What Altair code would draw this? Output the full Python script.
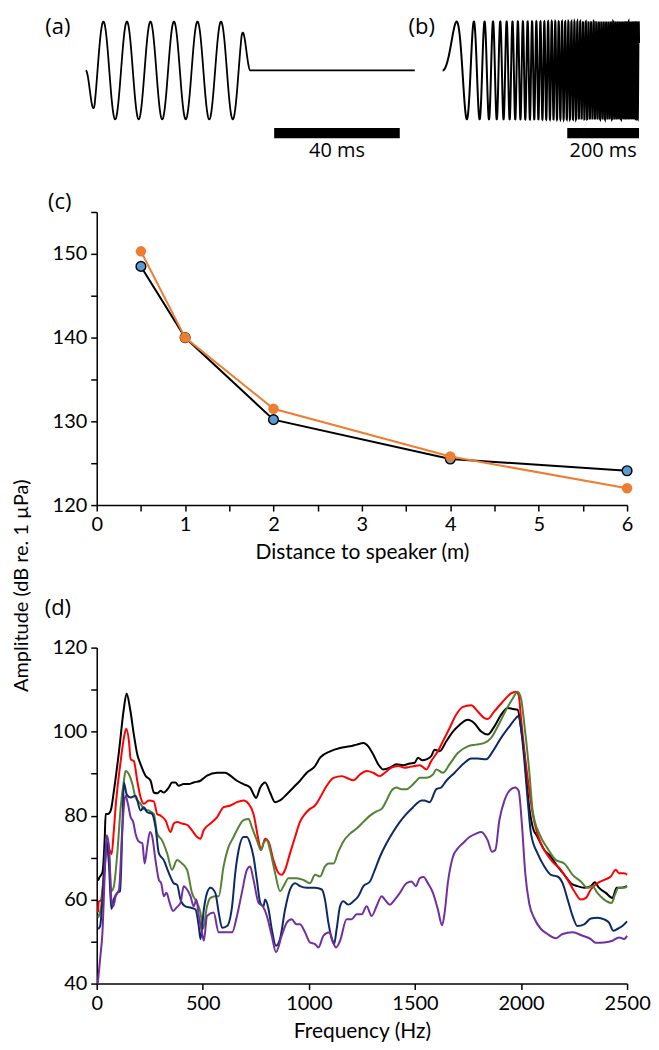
import altair as alt
import numpy as np
import pandas as pd

# ---------------- panel (a): tone burst ----------------
A_TONE_HZ = 133.5
A_CYCLES = 7
A_RAMP_CYCLES = 0.375
A_TRACE_END_MS = 104.8
A_DOMAIN_MS = [3.49, 176.2]
A_BAR_MS = [60.0, 100.0]
A_BAR_LABEL = "40 ms"

# ---------------- panel (b): frequency sweep ----------------
B_SWEEP_HZ_PER_S = 330.0
B_DURATION_MS = 547.2
B_DOMAIN_MS = [-963.9, 547.2]
B_BAR_MS = [347.2, 547.2]
B_BAR_LABEL = "200 ms"

WAVE_Y_DOMAIN = [-1.857, 1.082]
BAR_Y = [-1.18, -1.39]
BAR_LABEL_Y = -1.65

# ---------------- panel (c) ----------------
distance_m = [0.5, 1, 2, 4, 6]
level_black = [148.5, 140.0, 130.2, 125.5, 124.1]
level_orange = [150.3, 140.0, 131.5, 125.8, 122.0]

# ---------------- panel (d) ----------------
black_f = [6, 12, 27, 38, 42, 53, 66, 81, 105, 128, 141, 157, 175, 191, 207, 230, 254, 269, 285, 301, 316, 340, 355, 371, 386, 410, 434, 457, 489, 520, 567, 606, 630, 661, 692, 723, 739, 751, 771, 794, 817, 841, 864, 896, 927, 958, 990, 1029, 1053, 1100, 1147, 1194, 1225, 1257, 1280, 1303, 1327, 1350, 1382, 1413, 1444, 1476, 1499, 1515, 1535, 1554, 1577, 1593, 1616, 1648, 1679, 1710, 1749, 1780, 1812, 1843, 1874, 1906, 1937, 1961, 1984, 2000, 2016, 2035, 2055, 2078, 2110, 2141, 2172, 2204, 2235, 2266, 2298, 2329, 2348, 2368, 2400, 2431, 2451, 2470, 2500]
black_a = [64.5, 65.2, 66.5, 75, 80.4, 80.4, 81.2, 85.9, 95.3, 105.5, 109.1, 105.5, 99.3, 94.6, 92.2, 89.5, 88.3, 85.5, 85.3, 85.9, 85.5, 86.7, 87.9, 87.9, 87.1, 87.5, 87.5, 87.9, 88.3, 89.5, 90.2, 90.2, 89.5, 88.3, 87.5, 86.7, 85.1, 84.2, 86.7, 87.9, 85.5, 83.2, 83.6, 85.1, 86.7, 88.3, 90.2, 91.8, 93.8, 95.3, 96.1, 96.5, 96.9, 97.3, 96.5, 94.6, 92.2, 91, 91.4, 92.2, 92, 92.4, 92.6, 93.8, 93.2, 93.4, 94.2, 95.7, 95.3, 97.7, 100, 101.6, 102.8, 102, 100, 99.3, 101.2, 104, 105.6, 105.4, 105.2, 100.9, 94.6, 83.5, 77.3, 74.9, 71.8, 70.2, 67.9, 65.9, 63.9, 63.2, 62.8, 63.2, 64.1, 62.8, 61.6, 60.4, 62.8, 62.8, 63.2]

red_f = [6, 10, 20, 30, 45, 58, 70, 80, 89, 113, 128, 139, 152, 160, 175, 191, 207, 222, 246, 269, 285, 301, 324, 348, 363, 379, 402, 426, 449, 473, 489, 504, 536, 567, 598, 630, 661, 692, 716, 739, 763, 775, 794, 810, 833, 857, 872, 888, 911, 935, 958, 982, 1005, 1029, 1053, 1084, 1116, 1155, 1178, 1210, 1241, 1272, 1303, 1335, 1358, 1389, 1421, 1452, 1476, 1499, 1523, 1554, 1577, 1608, 1632, 1663, 1694, 1726, 1765, 1796, 1828, 1843, 1874, 1914, 1953, 1976, 1989, 2000, 2016, 2039, 2055, 2078, 2110, 2149, 2188, 2220, 2251, 2282, 2306, 2329, 2360, 2392, 2423, 2447, 2462, 2486, 2500]
red_a = [57, 59.5, 59.8, 64, 71, 72, 70.8, 76, 82, 93, 98.5, 100.7, 97.7, 93.4, 93, 88.3, 84.3, 82.8, 83.6, 83.4, 80.4, 80, 78.9, 76.1, 78.1, 78.5, 78.1, 77.8, 76.5, 74.9, 74.5, 76.5, 78.1, 79.6, 82, 82.4, 83.2, 83.6, 82.8, 80.4, 74.1, 71.8, 74.5, 73.8, 69.4, 66.3, 65.9, 67.1, 71, 74.9, 78.5, 80.4, 81.6, 82.4, 84.3, 87.1, 89, 89.4, 89, 88.4, 89.8, 90.6, 90.2, 89.4, 90.2, 91.4, 91.8, 91.4, 91.6, 91.8, 92, 91, 93, 95.3, 97.7, 100.8, 104, 105.9, 106.3, 104.8, 103.2, 103, 104.8, 107.1, 109.1, 109.5, 108.7, 103.2, 95.3, 86, 80.5, 75.5, 71.8, 69, 67.1, 64.7, 62, 60, 60.4, 62.4, 63.9, 64.7, 65.5, 67.1, 66.3, 66.3, 65.9]

green_f = [6, 20, 35, 47, 58, 69, 80, 97, 113, 128, 136, 152, 168, 183, 207, 222, 246, 269, 285, 308, 332, 355, 379, 402, 426, 449, 473, 489, 501, 520, 536, 559, 575, 598, 622, 645, 669, 692, 716, 731, 755, 774, 786, 802, 817, 841, 864, 888, 903, 942, 974, 1005, 1029, 1053, 1076, 1092, 1116, 1139, 1162, 1194, 1225, 1257, 1288, 1319, 1343, 1366, 1389, 1413, 1436, 1460, 1484, 1507, 1523, 1554, 1585, 1601, 1632, 1663, 1702, 1749, 1788, 1828, 1859, 1898, 1930, 1961, 1984, 2000, 2016, 2039, 2055, 2086, 2125, 2165, 2204, 2243, 2282, 2313, 2337, 2360, 2392, 2427, 2443, 2459, 2486, 2500]
green_a = [55.7, 58, 66, 73, 70, 62, 63, 71, 82, 88.3, 90.6, 89.8, 87.5, 84.3, 82.8, 81.6, 81.2, 80.4, 75.7, 74.1, 71, 67.1, 69.4, 68.6, 67.1, 61.6, 59.2, 56.9, 53, 58.4, 60.4, 60.8, 60.8, 67.9, 72.6, 74.9, 77.3, 78.9, 79.2, 77.3, 74.1, 71.8, 73.4, 74.1, 71.8, 66.3, 62, 63.9, 65.1, 65.1, 64.7, 63.9, 65.9, 65.5, 67.9, 68.6, 68.6, 71.4, 73.8, 75.7, 76.9, 78.5, 80, 81, 81.6, 83.6, 85.9, 86.7, 86.3, 86.3, 87.1, 88.3, 89, 89, 89.8, 91, 90.2, 92.2, 94.9, 96.5, 96.9, 97.3, 98.5, 102, 105.2, 107.9, 109.5, 107.9, 101.6, 90.5, 81.2, 75.7, 72.2, 69.4, 68.6, 65.9, 64.3, 62.8, 63.2, 61.6, 60, 59.2, 61.2, 62.8, 62.8, 63.2]

navy_f = [6, 16, 27, 38, 47, 58, 69, 80, 97, 110, 121, 128, 141, 160, 183, 207, 222, 238, 261, 277, 293, 316, 340, 363, 379, 395, 418, 442, 465, 481, 489, 505, 520, 536, 559, 575, 591, 614, 638, 653, 669, 692, 708, 723, 739, 755, 771, 786, 794, 810, 825, 845, 864, 888, 911, 935, 958, 990, 1029, 1061, 1076, 1092, 1108, 1119, 1131, 1147, 1162, 1186, 1210, 1233, 1257, 1288, 1311, 1335, 1366, 1397, 1429, 1460, 1491, 1507, 1531, 1545, 1569, 1601, 1624, 1648, 1687, 1734, 1765, 1796, 1836, 1867, 1906, 1945, 1976, 1989, 2000, 2016, 2031, 2047, 2078, 2110, 2141, 2172, 2196, 2220, 2243, 2266, 2298, 2329, 2360, 2392, 2415, 2435, 2454, 2478, 2500]
navy_a = [53, 53.7, 60, 70.2, 74, 68, 57.8, 60, 61.6, 62, 77.3, 87.9, 85.1, 84.3, 84.7, 81.2, 82, 80.8, 80.4, 77.3, 71, 69.4, 66.3, 63.9, 63.5, 60, 58.4, 58.1, 57.7, 53.7, 50.6, 57.7, 61.6, 62.8, 61.6, 56.9, 53.3, 53.7, 58.4, 66.3, 71.8, 74.9, 74.9, 73.4, 70.2, 64.7, 59.2, 58.4, 60, 57.7, 53, 49, 50.6, 57.7, 62.4, 63.9, 63.2, 62.8, 62.8, 62.4, 60, 54.5, 50.6, 49.4, 53, 58.4, 59.6, 58.8, 59.6, 60.8, 63.2, 64.3, 67.1, 70.2, 73.4, 76.1, 78.5, 80.4, 82, 82.8, 83.6, 83.6, 83.2, 86.3, 86.7, 88.3, 90.2, 92.6, 93.6, 93.6, 93.4, 95.3, 98.5, 101.2, 103.2, 103.8, 100.8, 93, 84, 75.7, 71, 67.9, 65.9, 65.5, 63.9, 60, 56.1, 53.7, 54.1, 55.5, 55.7, 55.3, 54.5, 52.6, 53, 53.7, 54.8]

purple_f = [5, 16, 27, 38, 47, 58, 69, 78, 89, 105, 121, 136, 147, 160, 172, 183, 199, 215, 226, 238, 251, 262, 277, 293, 304, 316, 329, 344, 360, 376, 395, 410, 426, 442, 457, 470, 481, 496, 505, 520, 551, 575, 591, 638, 661, 684, 708, 723, 739, 763, 783, 802, 825, 845, 872, 896, 919, 942, 958, 982, 1005, 1029, 1045, 1069, 1097, 1112, 1128, 1147, 1178, 1202, 1225, 1249, 1272, 1296, 1319, 1343, 1358, 1382, 1405, 1429, 1460, 1484, 1504, 1523, 1541, 1561, 1585, 1608, 1628, 1640, 1655, 1679, 1702, 1726, 1757, 1788, 1812, 1843, 1863, 1879, 1898, 1922, 1945, 1973, 1989, 2004, 2020, 2039, 2063, 2094, 2125, 2165, 2196, 2243, 2290, 2329, 2352, 2392, 2431, 2462, 2486, 2500]
purple_a = [40, 45.9, 52.2, 66.3, 75.3, 72.6, 60, 58.4, 60.8, 62.4, 77.3, 84.7, 82.8, 79.6, 78.5, 75.7, 73.8, 73.4, 68.6, 72.6, 76.1, 74.9, 69.4, 64.7, 63.9, 60.8, 61.6, 59.2, 57.3, 58.1, 59.2, 63.2, 62.4, 60.8, 58.4, 60, 56.1, 52.2, 50.2, 56.1, 56.9, 52.2, 52.2, 52.2, 56.1, 61.6, 67.1, 67.9, 64.7, 59.2, 58.4, 56.1, 51.4, 47.5, 51.4, 54.5, 55.3, 54.1, 54.1, 52.2, 49.8, 49.4, 48.6, 51.4, 52.2, 50.2, 48.6, 50.2, 55.3, 55.3, 56.5, 56.5, 58.4, 56.1, 58.4, 60.8, 60, 58.8, 60, 61.6, 63.9, 64.3, 63.2, 65.1, 65.4, 63.9, 61.6, 57.7, 53.9, 56.9, 63.9, 70.2, 72.2, 73.4, 74.9, 75.7, 76.1, 74.1, 71.4, 71.8, 78.9, 83.6, 85.9, 86.7, 85.9, 78.1, 66.3, 59, 55.5, 53, 51.8, 50.8, 51.8, 52.2, 51.4, 50.6, 49.7, 49.8, 50.2, 51, 50.6, 51.4]

series_names = ["black", "red", "green", "navy", "purple"]
series_colors = ["#000000", "#ff0000", "#548235", "#0b2a66", "#7030a0"]
series_f = [black_f, red_f, green_f, navy_f, purple_f]
series_a = [black_a, red_a, green_a, navy_a, purple_a]

AXIS_FONT = "Lato"
LABEL_FONT = "Open Sans"

# ================= top row: waveforms =================
t_a = np.arange(0, A_TRACE_END_MS + 1e-9, 0.05)
tone_end = A_CYCLES / A_TONE_HZ * 1000
ramp = A_RAMP_CYCLES / A_TONE_HZ * 1000
env = np.clip(np.minimum(t_a / ramp, (tone_end - t_a) / ramp), 0, 1)
df_a = pd.DataFrame({"t": t_a, "v": -np.sin(2 * np.pi * A_TONE_HZ * t_a / 1000) * env})

t_b = np.arange(0, B_DURATION_MS + 1e-9, 0.1)
ts = t_b / 1000
df_b = pd.DataFrame({"t": t_b, "v": np.sin(2 * np.pi * B_SWEEP_HZ_PER_S * ts * ts / 2)})

yw = alt.Y("v:Q", scale=alt.Scale(domain=WAVE_Y_DOMAIN, nice=False, zero=False), axis=None)


def wave_layer(df, domain, bar, label, letter, letter_x, width):
    xs = alt.Scale(domain=domain, nice=False, zero=False)
    line = alt.Chart(df).mark_line(color="black", strokeWidth=width).encode(
        x=alt.X("t:Q", scale=xs, axis=None), y=yw)
    bar_df = pd.DataFrame({"t": [bar[0]], "t2": [bar[1]], "v": [BAR_Y[0]], "v2": [BAR_Y[1]]})
    rect = alt.Chart(bar_df).mark_rect(color="black").encode(
        x=alt.X("t:Q", scale=xs, axis=None), x2="t2:Q", y=yw, y2="v2:Q")
    txt_df = pd.DataFrame({"t": [(bar[0] + bar[1]) / 2], "v": [BAR_LABEL_Y], "label": [label]})
    txt = alt.Chart(txt_df).mark_text(font=LABEL_FONT, fontSize=20, color="black").encode(
        x=alt.X("t:Q", scale=xs, axis=None), y=yw, text="label:N")
    let = alt.Chart(pd.DataFrame({"label": [letter]})).mark_text(
        font=LABEL_FONT, fontSize=22, color="black").encode(
        x=alt.value(letter_x), y=alt.value(9), text="label:N")
    return alt.layer(line, rect, txt, let)


top = alt.layer(
    wave_layer(df_a, A_DOMAIN_MS, A_BAR_MS, A_BAR_LABEL, "(a)", -39, 1.8),
    wave_layer(df_b, B_DOMAIN_MS, B_BAR_MS, B_BAR_LABEL, "(b)", 326, 2.0),
).resolve_scale(x="independent").properties(width=544, height=144)

# ================= panel (c) =================
df_cb = pd.DataFrame({"d": distance_m, "L": level_black})
df_co = pd.DataFrame({"d": distance_m, "L": level_orange})
xc = alt.X("d:Q", scale=alt.Scale(domain=[0, 6], nice=False, zero=False),
           axis=alt.Axis(values=[i * 0.5 for i in range(13)],
                         labelExpr="datum.value % 1 === 0 ? format(datum.value, 'd') : ''",
                         title="Distance to speaker (m)", labelFlush=False, titlePadding=7))
yc = alt.Y("L:Q", scale=alt.Scale(domain=[120, 155], nice=False, zero=False),
           axis=alt.Axis(values=list(range(120, 156, 5)),
                         labelExpr="datum.value % 10 === 0 ? format(datum.value, 'd') : ''",
                         title=None))
c_black = alt.Chart(df_cb).mark_line(color="black", strokeWidth=2).encode(x=xc, y=yc)
c_bpts = alt.Chart(df_cb).mark_circle(size=95, color="#5b9bd5", stroke="black",
                                      strokeWidth=1.4, opacity=1).encode(x=xc, y=yc)
c_orange = alt.Chart(df_co).mark_line(color="#ed7d31", strokeWidth=2).encode(x=xc, y=yc)
c_opts = alt.Chart(df_co).mark_circle(size=110, color="#ed7d31", opacity=1).encode(x=xc, y=yc)
c_let = alt.Chart(pd.DataFrame({"label": ["(c)"]})).mark_text(
    font=LABEL_FONT, fontSize=22, color="black").encode(
    x=alt.value(-37), y=alt.value(-10), text="label:N")
panel_c = alt.layer(c_black, c_bpts, c_orange, c_opts, c_let).properties(width=532, height=294)

# spacer between (c) and (d)
spacer = alt.Chart(pd.DataFrame({"label": [""]})).mark_text().encode(
    x=alt.value(0), y=alt.value(0), text="label:N").properties(width=10, height=41)

# ================= panel (d) =================
rows = []
for name, fs, amps in zip(series_names, series_f, series_a):
    for f, a in zip(fs, amps):
        rows.append({"f": f, "A": a, "s": name})
df_d = pd.DataFrame(rows)
xd = alt.X("f:Q", scale=alt.Scale(domain=[0, 2500], nice=False, zero=False),
           axis=alt.Axis(values=[0, 500, 1000, 1500, 2000, 2500], format="d",
                         title="Frequency (Hz)", labelFlush=False, titlePadding=7))
yd = alt.Y("A:Q", scale=alt.Scale(domain=[40, 120], nice=False, zero=False),
           axis=alt.Axis(values=list(range(40, 121, 10)),
                         labelExpr="datum.value % 20 === 0 ? format(datum.value, 'd') : ''",
                         title=None))
d_lines = [
    alt.Chart(df_d).transform_filter(alt.datum.s == name).mark_line(
        color=col, strokeWidth=2, interpolate="monotone").encode(x=xd, y=yd)
    for name, col in zip(series_names, series_colors)
]
d_let = alt.Chart(pd.DataFrame({"label": ["(d)"]})).mark_text(
    font=LABEL_FONT, fontSize=22, color="black").encode(
    x=alt.value(-39), y=alt.value(-40), text="label:N")
y_title = alt.Chart(pd.DataFrame({"label": ["Amplitude (dB re. 1 µPa)"]})).mark_text(
    font=AXIS_FONT, fontSize=20, color="black", angle=270).encode(
    x=alt.value(-75), y=alt.value(-62), text="label:N")
panel_d = alt.layer(*d_lines, d_let, y_title).properties(width=532, height=337)

chart = alt.vconcat(top, panel_c, spacer, panel_d, spacing=51, bounds="flush").properties(
    padding={"left": 3, "top": 6, "right": 0, "bottom": 0}
).configure_view(stroke=None).configure_axis(
    domainColor="black", tickColor="black", labelColor="black", titleColor="black",
    labelFont=AXIS_FONT, titleFont=AXIS_FONT, labelFontSize=20, titleFontSize=21,
    titleFontWeight="normal", tickSize=6, domainWidth=1.5, tickWidth=1.5, grid=False,
    labelPadding=4
)

chart.save("out.html", embed_options={"renderer": "svg", "actions": False})
